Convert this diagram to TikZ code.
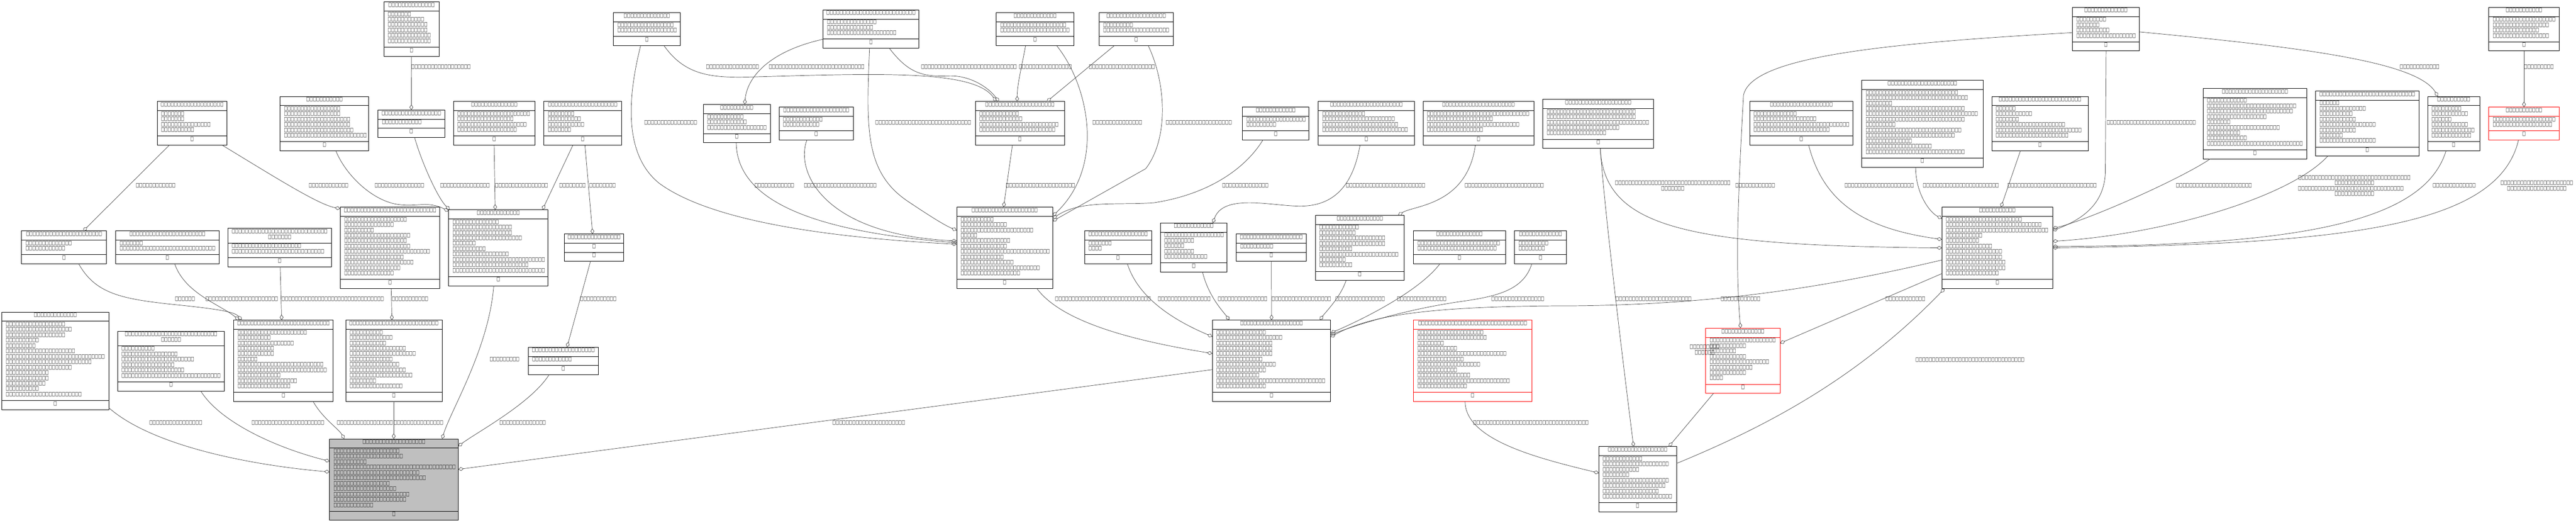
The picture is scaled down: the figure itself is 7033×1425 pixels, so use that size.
\documentclass[tikz,border=0pt]{standalone}
\usepackage{fontspec}
\usepackage{graphicx}
\usetikzlibrary{arrows.meta,calc}
\newfontfamily\tofufont{DejaVu Sans}
\newsavebox\tofusb
\ExplSyntaxOn
\cs_new:Npn \tofus #1 { \prg_replicate:nn {#1} { \usebox\tofusb } }
\cs_new:Npn \itemcount #1 { \clist_count:n {#1} }
\ExplSyntaxOff
\tikzset{
  clsbox/.style={draw=black, fill=white, line width=1.3pt, inner sep=0pt, outer sep=0pt, rectangle},
  clssep/.style={draw=black, line width=1.3pt},
  redbox/.style={draw=red},
  graybox/.style={fill=black!25},
  txt/.style={inner sep=0pt, outer sep=0pt, anchor=center},
  lbl/.style={inner sep=0pt, outer sep=0pt, anchor=west},
  agg/.style={draw=black!75, line width=1pt, -{Diamond[open,length=15pt,width=10pt]}},
}
% name, x, y, width, title line lengths, attribute line lengths, style
\newcommand\umlcls[7]{%
  \edef\clsnt{\itemcount{#5}}%
  \edef\clsna{\itemcount{#6}}%
  \pgfmathsetmacro\clsht{25+14.7*(\clsnt-1)}%
  \pgfmathsetmacro\clsha{10.3+14.7*\clsna}%
  \pgfmathsetmacro\clsH{\clsht+\clsha+25}%
  \node[clsbox,#7,minimum width=#4*1pt,minimum height=\clsH*1pt,anchor=north west] (#1) at (#2,#3) {};
  \draw[clssep,#7] (#2,#3+\clsht) -- ++(#4,0);
  \draw[clssep,#7] (#2,#3+\clsht+\clsha) -- ++(#4,0);
  \foreach \kn [count=\ki] in {#5} {\node[txt] (#1-t\ki) at (#2+#4/2, #3+8.3+14.7*\ki-14.7) {\tofus{\kn}};}
  \foreach \kn [count=\ki] in {#6} {\node[txt,anchor=west] (#1-a\ki) at (#2+11, #3+\clsht+8.3+14.7*\ki-14.7) {\tofus{\kn}};}
  \node[txt] (#1-m) at (#2+#4/2, #3+\clsht+\clsha+8.3) {\tofus{1}};
}
\begin{document}
\sbox\tofusb{\resizebox*{9pt}{11.7pt}{\tofufont □}}%
\begin{tikzpicture}[x=1pt,y=-1pt]
\fill[white] (0,0) rectangle (7033,1425);
\useasboundingbox (0,0) rectangle (7033,1425);

% ---------------- classes ----------------
\umlcls{n1}{1048}{5}{151}{14}{7,11,12,12,13,13}{}
\umlcls{n2}{429}{277}{191}{19}{7,7,15,10}{}
\umlcls{n3}{765}{263}{242}{11}{17,17,20,20,21,25}{}
\umlcls{n4}{1032}{300}{182}{18}{12}{}
\umlcls{n5}{1238}{277}{223}{14}{22,17,21,18}{}
\umlcls{n6}{59}{630}{232}{23}{14,12}{}
\umlcls{n7}{316}{630}{282}{23}{7,29}{}
\umlcls{n8}{622}{623}{283}{29,7}{21,28}{}
\umlcls{n9}{929}{565}{272}{28}{19,15,9,20,19,20,26,18,21,17,15}{}
\umlcls{n10}{1225}{572}{271}{13}{14,18,18,21,7,10,17,28,23,28}{}
\umlcls{n11}{5}{851}{292}{13}{18,20,18,10,9,21,30,26,20,13,13,12,10,23}{}
\umlcls{n12}{321}{903}{292}{28,6}{10,17,22,16,19,30}{}
\umlcls{n13}{638}{873}{272}{28}{21,10,17,11,11,6,26,27,13,18,16}{}
\umlcls{n14}{944}{873}{263}{27}{10,13,11,17,20,13,15,17,19,8,16}{}
\umlcls{n15}{900}{1197}{351}{19}{20,21,10,37,26,28,17,19,23,22,12}{graybox}
\umlcls{n16}{1442}{947}{192}{19}{12}{}
\umlcls{n17}{1675}{35}{182}{14}{17,18}{}
\umlcls{n18}{2247}{27}{262}{27}{15,14,21}{}
\umlcls{n19}{2720}{35}{212}{13}{20,21}{}
\umlcls{n20}{1485}{277}{212}{21}{8,10,11,7}{}
\umlcls{n21}{1920}{285}{183}{10}{11,12,18}{}
\umlcls{n22}{2127}{292}{203}{20}{12,11}{}
\umlcls{n23}{2663}{277}{243}{21}{12,13,24,23}{}
\umlcls{n24}{1541}{638}{162}{16}{0}{}
\node[txt] (n24-c) at (1622,671.3) {\tofus{1}};
\umlcls{n25}{2612}{565}{262}{20}{10,14,22,5,15,14,27,13,16,24,18}{}
\umlcls{n26}{3001}{35}{202}{18}{9,20}{}
\umlcls{n27}{3392}{292}{182}{12}{18,9}{}
\umlcls{n28}{3599}{277}{263}{22}{13,22,23,26}{}
\umlcls{n29}{3885}{277}{303}{22}{31,20,28,17}{}
\umlcls{n30}{3310}{873}{323}{19}{15,20,17,17,17,14,18,15,13,33,15}{}
\umlcls{n31}{2961}{630}{183}{18}{7,4}{}
\umlcls{n32}{3168}{608}{182}{12}{18,9,6,9,13}{}
\umlcls{n33}{3375}{638}{192}{19}{10}{}
\umlcls{n34}{3591}{587}{243}{14}{12,11,20,20,10,24,8,10}{}
\umlcls{n35}{3859}{630}{251}{14}{25,24}{}
\umlcls{n36}{4135}{630}{142}{13}{9,8}{}
\umlcls{n37}{3859}{873}{323}{33}{20,21,8,12,27,14,19,12,16,28,15}{redbox}
\umlcls{n38}{5302}{565}{302}{11}{23,29,31,11,10,14,17,17,18,18,16}{}
\umlcls{n39}{4365}{1218}{212}{18}{12,20,11,8,20,19,17,21}{}
\umlcls{n40}{4212}{271}{303}{20}{27,27,31,22,18}{}
\umlcls{n41}{4657}{895}{203}{13}{20,11,8,11,18,13,11,4}{redbox}
\umlcls{n42}{5658}{20}{183}{13}{9,7,10,18}{}
\umlcls{n43}{4777}{277}{282}{19}{13,19,29,23}{}
\umlcls{n44}{5083}{219}{331}{21}{28,31,8,30,34,30,9,29,27,14,20,30}{}
\umlcls{n45}{5438}{263}{263}{25}{6,11,7,21,26,22}{}
\umlcls{n46}{6628}{263}{142}{10}{9,11,6,11,13,12}{}
\umlcls{n47}{6795}{20}{192}{11}{19,17,14,17}{}
\umlcls{n48}{6015}{241}{283}{20}{12,27,26,18,7,22,10,12,29}{}
\umlcls{n49}{6322}{248}{282}{29}{6,14,10,11,17,11,7,17}{}
\umlcls{n50}{6795}{292}{192}{11}{19,18}{redbox}

% ---------------- connectors ----------------
\draw[agg] (n1.south) -- (n4.north);
\draw[agg] ($(n2.south west)+(33,0)$) -- ($(n6.north west)+(168,0)$);
\draw[agg] ($(n2.south west)+(178,0)$) .. controls (760,489) and (870,558) .. ($(n9.north west)+(0,4)$);
\draw[agg] ($(n3.south west)+(152,0)$) .. controls (945,480) and (1020,550) .. (1090,558) .. controls (1140,564) and (1170,548) .. ($(n10.north west)+(0,4)$);
\draw[agg] ($(n4.south west)+(100,0)$) .. controls (1150,440) and (1195,540) .. ($(n10.north west)+(3,0)$);
\draw[agg] ($(n5.south west)+(111,0)$) -- ($(n10.north west)+(127,0)$);
\draw[agg] ($(n6.south west)+(156,0)$) .. controls (260,800) and (330,815) .. (470,830) .. controls (590,842) and (640,850) .. ($(n13.north west)+(22,0)$);
\draw[agg] ($(n7.south west)+(161,0)$) .. controls (505,800) and (600,830) .. ($(n13.north west)+(15,0)$);
\draw[agg] ($(n8.south west)+(143,0)$) -- ($(n13.north west)+(131,0)$);
\draw[agg] ($(n9.south west)+(139,0)$) -- ($(n14.north west)+(126,0)$);
\draw[agg] ($(n11.north east)+(0,261)$) .. controls (420,1220) and (700,1270) .. ($(n15.north west)+(0,90)$);
\draw[agg] ($(n12.south west)+(227,0)$) .. controls (600,1150) and (750,1220) .. ($(n15.north west)+(0,61)$);
\draw[agg] ($(n13.south west)+(217,0)$) .. controls (880,1140) and (925,1170) .. ($(n15.north west)+(40,0)$);
\draw[agg] ($(n14.south west)+(131,0)$) -- ($(n15.north west)+(175,0)$);
\draw[agg] ($(n10.south west)+(123,0)$) .. controls (1335,950) and (1230,1120) .. ($(n15.north west)+(307,0)$);
\draw[agg] ($(n16.south west)+(57,0)$) .. controls (1450,1100) and (1300,1180) .. ($(n15.north east)+(0,20)$);
\draw[agg] ($(n30.north west)+(0,135)$) -- ($(n15.north east)+(0,83)$);
\draw[agg] ($(n17.south west)+(74,0)$) .. controls (1715,260) and (1700,420) .. (1800,500) .. controls (1950,610) and (2300,650) .. ($(n25.north west)+(0,101)$);
\draw[agg] ($(n17.south west)+(138,0)$) .. controls (1870,205) and (1940,213) .. (2050,210) .. controls (2400,200) and (2660,190) .. ($(n23.north west)+(57,0)$);
\draw[agg] ($(n18.north west)+(0,80)$) .. controls (2100,140) and (2040,210) .. ($(n21.north west)+(113,0)$);
\draw[agg] ($(n18.south west)+(127,0)$) .. controls (2365,350) and (2360,470) .. (2480,550) .. controls (2540,590) and (2580,615) .. ($(n25.north west)+(0,63)$);
\draw[agg] ($(n18.south west)+(181,0)$) .. controls (2480,200) and (2520,210) .. (2590,207) .. controls (2650,205) and (2700,240) .. ($(n23.north west)+(64,0)$);
\draw[agg] ($(n19.south west)+(80,0)$) .. controls (2790,180) and (2777,230) .. ($(n23.north west)+(114,0)$);
\draw[agg] ($(n20.south west)+(79,0)$) -- ($(n10.north west)+(256,0)$);
\draw[agg] ($(n20.south west)+(112,0)$) -- ($(n24.north west)+(77,0)$);
\draw[agg] ($(n21.south west)+(90,0)$) .. controls (2012,540) and (2200,630) .. ($(n25.north west)+(0,97)$);
\draw[agg] ($(n22.south west)+(76,0)$) .. controls (2170,470) and (2250,640) .. ($(n25.north west)+(0,92)$);
\draw[agg] ($(n23.south west)+(101,0)$) -- ($(n25.north west)+(128,0)$);
\draw[agg] ($(n24.south west)+(71,0)$) -- ($(n16.north west)+(106,0)$);
\draw[agg] ($(n19.south west)+(165,0)$) .. controls (2970,230) and (3020,450) .. ($(n25.north east)+(0,24)$);
\draw[agg] ($(n26.south west)+(41,0)$) -- ($(n23.north west)+(195,0)$);
\draw[agg] ($(n26.south west)+(134,0)$) .. controls (3185,230) and (3190,380) .. (3128,460) -- ($(n25.north east)+(0,38)$);
\draw[agg] ($(n27.south west)+(56,0)$) .. controls (3400,460) and (3300,530) .. (3150,553) .. controls (3050,560) and (2950,545) .. ($(n25.north east)+(0,31)$);
\draw[agg] ($(n28.south west)+(114,0)$) .. controls (3690,530) and (3620,565) .. (3540,562) .. controls (3460,559) and (3340,530) .. ($(n32.north west)+(143,0)$);
\draw[agg] ($(n29.south west)+(143,0)$) .. controls (4005,560) and (3860,560) .. ($(n34.north west)+(226,0)$);
\draw[agg] ($(n25.south west)+(219,0)$) .. controls (2900,880) and (3100,930) .. ($(n30.north west)+(0,91)$);
\draw[agg] ($(n31.south west)+(117,0)$) .. controls (3110,820) and (3220,880) .. ($(n30.north west)+(0,45)$);
\draw[agg] ($(n32.south west)+(115,0)$) .. controls (3300,810) and (3340,850) .. ($(n30.north west)+(46,0)$);
\draw[agg] (n33.south) -- (n30.north);
\draw[agg] ($(n34.south west)+(84,0)$) .. controls (3660,810) and (3620,850) .. ($(n30.north west)+(293,0)$);
\draw[agg] ($(n35.south west)+(72,0)$) .. controls (3870,800) and (3700,880) .. ($(n30.north east)+(0,35)$);
\draw[agg] ($(n36.south west)+(47,0)$) .. controls (4160,790) and (4090,808) .. (3990,822) .. controls (3850,842) and (3720,880) .. ($(n30.north east)+(0,40)$);
\draw[agg] ($(n40.south west)+(157,0)$) .. controls (4380,560) and (4420,900) .. ($(n39.north west)+(95,0)$);
\draw[agg] ($(n38.north west)+(0,144)$) .. controls (5000,780) and (4700,830) .. (4300,834) .. controls (3900,834) and (3740,860) .. ($(n30.north east)+(0,46)$);
\draw[agg] ($(n38.north west)+(0,181)$) -- ($(n41.north east)+(0,41)$);
\draw[agg] ($(n39.north east)+(0,46)$) .. controls (4820,1164) and (5070,1034) .. ($(n38.south west)+(7,0)$);
\draw[agg] ($(n41.south west)+(21,0)$) -- ($(n39.north west)+(191,0)$);
\draw[agg] ($(n37.south west)+(141,0)$) .. controls (4000,1200) and (4200,1250) .. ($(n39.north west)+(0,72)$);
\draw[agg] ($(n40.south west)+(157,0)$) .. controls (4380,620) and (4600,670) .. ($(n38.north west)+(0,111)$);
\draw[agg] ($(n43.south west)+(161,0)$) .. controls (4980,560) and (5100,625) .. ($(n38.north west)+(0,88)$);
\draw[agg] ($(n44.south west)+(147,0)$) .. controls (5230,530) and (5270,580) .. ($(n38.north west)+(0,31)$);
\draw[agg] ($(n45.south west)+(78,0)$) -- ($(n38.north west)+(161,0)$);
\draw[agg] ($(n42.north west)+(0,69)$) .. controls (5100,120) and (4780,160) .. (4760,260) .. controls (4750,450) and (4735,700) .. ($(n41.north west)+(95,0)$);
\draw[agg] ($(n42.north east)+(0,67)$) .. controls (6300,130) and (6600,170) .. ($(n46.north west)+(28,0)$);
\draw[agg] ($(n42.south west)+(92,0)$) -- (5748,470) .. controls (5745,560) and (5680,600) .. ($(n38.north east)+(0,64)$);
\draw[agg] (n47.south) -- (n50.north);
\draw[agg] ($(n48.south west)+(19,0)$) .. controls (5950,490) and (5700,600) .. ($(n38.north east)+(0,58)$);
\draw[agg] ($(n49.south west)+(33,0)$) .. controls (6250,540) and (5900,640) .. ($(n38.north east)+(0,93)$);
\draw[agg] ($(n46.south west)+(50,0)$) .. controls (6620,600) and (6300,670) .. ($(n38.north east)+(0,107)$);
\draw[agg] ($(n50.south west)+(81,0)$) .. controls (6820,620) and (6400,665) .. ($(n38.north east)+(0,111)$);

% ---------------- connector labels ----------------
\node[lbl] (l1) at (1123,183) {\tofus{18}};
\node[lbl] (l2) at (371,506) {\tofus{12}};
\node[lbl] (l3) at (843,506) {\tofus{12}};
\node[lbl] (l4) at (1023,506) {\tofus{15}};
\node[lbl] (l5) at (1202,506) {\tofus{15}};
\node[lbl] (l6) at (1352,506) {\tofus{16}};
\node[lbl] (l7) at (478,816) {\tofus{6}};
\node[lbl] (l8) at (561,816) {\tofus{22}};
\node[lbl] (l9) at (769,816) {\tofus{31}};
\node[lbl] (l10) at (1070,816) {\tofus{11}};
\node[lbl] (l11) at (408,1153) {\tofus{16}};
\node[lbl] (l12) at (687,1153) {\tofus{22}};
\node[lbl] (l13) at (920,1153) {\tofus{17}};
\node[lbl] (l14) at (1075,1153) {\tofus{15}};
\node[lbl] (l15) at (1337,980) {\tofus{9}};
\node[lbl] (l16) at (1364,1153) {\tofus{14}};
\node[lbl] (l17) at (2273,1153) {\tofus{22}};
\node[lbl] (l18) at (1759,334) {\tofus{16}};
\node[lbl] (l19) at (1928,183) {\tofus{16}};
\node[lbl] (l20) at (2099,183) {\tofus{29}};
\node[lbl] (l21) at (2390,334) {\tofus{29}};
\node[lbl] (l22) at (2515,183) {\tofus{29}};
\node[lbl] (l23) at (2782,183) {\tofus{16}};
\node[lbl] (l24) at (1527,506) {\tofus{8}};
\node[lbl] (l25) at (1609,506) {\tofus{8}};
\node[lbl] (l26) at (2060,506) {\tofus{12}};
\node[lbl] (l27) at (2195,506) {\tofus{22}};
\node[lbl] (l28) at (2746,506) {\tofus{21}};
\node[lbl] (l29) at (1584,816) {\tofus{11}};
\node[lbl] (l30) at (2983,334) {\tofus{15}};
\node[lbl] (l31) at (2973,183) {\tofus{20}};
\node[lbl] (l32) at (3183,334) {\tofus{20}};
\node[lbl] (l33) at (3337,506) {\tofus{14}};
\node[lbl] (l34) at (3675,506) {\tofus{24}};
\node[lbl] (l35) at (3999,506) {\tofus{24}};
\node[lbl] (l36) at (2881,816) {\tofus{29}};
\node[lbl] (l37) at (3161,816) {\tofus{16}};
\node[lbl] (l38) at (3325,816) {\tofus{15}};
\node[lbl] (l39) at (3472,816) {\tofus{18}};
\node[lbl] (l40) at (3646,816) {\tofus{15}};
\node[lbl] (l41) at (3814,816) {\tofus{15}};
\node[lbl] (l42) at (4072,816) {\tofus{16}};
\node[lbl] (l43) at (4411,816) {\tofus{23}};
\node[lbl] (l44) at (4698,816) {\tofus{12}};
\node[lbl] (l45) at (5148,816) {\tofus{12}};
\node[lbl] (l46) at (5230,981) {\tofus{33}};
\node[txt] (l47a) at (4654,946) {\tofus{9}};
\node[txt] (l47b) at (4654,961) {\tofus{6}};
\node[lbl] (l48) at (4022,1153) {\tofus{35}};
\node[txt] (l49a) at (4567,499) {\tofus{35}};
\node[txt] (l49b) at (4567,514) {\tofus{7}};
\node[lbl] (l50) at (5036,506) {\tofus{21}};
\node[lbl] (l51) at (5250,506) {\tofus{23}};
\node[lbl] (l52) at (5481,506) {\tofus{27}};
\node[lbl] (l53) at (4738,506) {\tofus{12}};
\node[lbl] (l54) at (6552,183) {\tofus{12}};
\node[lbl] (l55) at (5752,334) {\tofus{27}};
\node[lbl] (l56) at (6891,183) {\tofus{9}};
\node[lbl] (l57) at (5941,506) {\tofus{23}};
\node[txt] (l58a) at (6428,485) {\tofus{34}};
\node[txt] (l58b) at (6428,499.5) {\tofus{12}};
\node[txt] (l58c) at (6418,514) {\tofus{32}};
\node[txt] (l58d) at (6428,528.5) {\tofus{12}};
\node[lbl] (l59) at (6642,506) {\tofus{13}};
\node[txt] (l60a) at (6926,499) {\tofus{22}};
\node[txt] (l60b) at (6926,514) {\tofus{18}};
\end{tikzpicture}
\end{document}
